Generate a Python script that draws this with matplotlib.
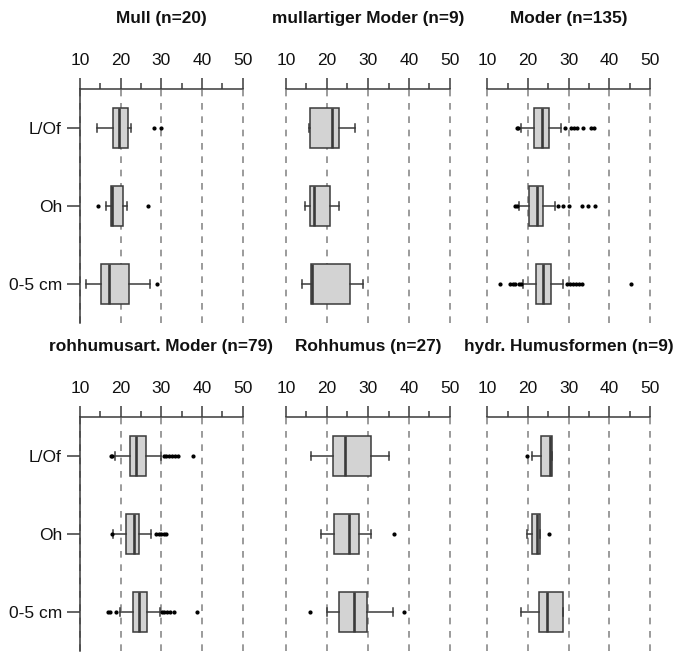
import matplotlib
matplotlib.use("Agg")
import matplotlib.pyplot as plt

plt.rcParams['font.family'] = ['Liberation Sans', 'DejaVu Sans']

titles = ["Mull (n=20)", "mullartiger Moder (n=9)", "Moder (n=135)",
          "rohhumusart. Moder (n=79)", "Rohhumus (n=27)", "hydr. Humusformen (n=9)"]
layers = ["L/Of", "Oh", "0-5 cm"]
x_ticks = [10, 20, 30, 40, 50]
x_minor = [15, 25, 35, 45]

# per panel: values for [L/Of, Oh, 0-5 cm]
whislo = [[14.3, 16.3, 11.4], [15.6, 14.6, 14.0], [18.2, 17.8, 18.7],
          [18.6, 18.2, 19.9], [16.0, 18.5, 20.1], [21.0, 19.8, 18.4]]
q1 = [[18.0, 17.6, 15.2], [15.9, 15.9, 16.1], [21.6, 20.2, 22.0],
      [22.3, 21.4, 23.0], [21.4, 21.8, 23.0], [23.2, 21.1, 22.8]]
med = [[19.7, 17.9, 17.2], [21.3, 16.9, 16.4], [23.4, 22.2, 23.8],
       [23.7, 23.2, 24.6], [24.5, 25.3, 26.7], [25.4, 22.2, 24.7]]
q3 = [[21.9, 20.5, 22.1], [23.0, 20.7, 25.6], [25.1, 23.6, 25.6],
      [26.3, 24.5, 26.5], [30.7, 27.9, 29.8], [25.8, 23.0, 28.6]]
whishi = [[22.5, 21.6, 27.2], [26.8, 23.0, 28.8], [28.0, 26.6, 28.5],
          [29.8, 27.4, 29.6], [35.2, 30.7, 36.2], [25.9, 23.0, 28.6]]
fliers = [
    [[28.2, 29.8], [14.4, 26.8], [28.9]],
    [[], [], []],
    [[17.3, 17.6, 29.1, 30.5, 31.3, 32.0, 33.6, 35.4, 36.2],
     [16.8, 17.2, 27.3, 28.7, 30.0, 33.4, 34.8, 36.6],
     [13.0, 15.7, 16.2, 16.7, 17.9, 18.4, 29.5, 30.3, 31.1, 31.8, 32.6, 33.3, 45.3]],
    [[17.5, 17.9, 30.7, 31.2, 31.9, 32.6, 33.3, 34.2, 37.7],
     [17.9, 28.6, 29.3, 29.9, 30.6, 31.1],
     [16.8, 17.4, 18.9, 30.1, 30.7, 31.4, 32.2, 33.2, 38.8]],
    [[], [36.3], [15.9, 38.8]],
    [[19.8], [25.2], []],
]

W, H = 679, 652
fig = plt.figure(figsize=(W / 100, H / 100), dpi=100)

p10 = [80.0, 286.0, 487.3]
p50 = [242.7, 450.0, 650.0]
row_top = [89.0, 417.0]
row_h = 234.0

dark = '#3a3a3a'
for i in range(6):
    r, c = divmod(i, 3)
    ppu = (p50[c] - p10[c]) / 40.0
    left = p10[c] - ppu
    width = ppu * 42
    ax = fig.add_axes([left / W, 1 - (row_top[r] + row_h) / H, width / W, row_h / H])
    stats = []
    for j in range(3):
        stats.append(dict(whislo=whislo[i][j], q1=q1[i][j], med=med[i][j],
                          q3=q3[i][j], whishi=whishi[i][j], fliers=fliers[i][j]))
    ax.bxp(stats, positions=[1, 2, 3], widths=0.52, orientation='horizontal',
           patch_artist=True, capwidths=0.1,
           boxprops=dict(facecolor='#d3d3d3', edgecolor=dark, linewidth=1.1),
           medianprops=dict(color=dark, linewidth=1.9),
           whiskerprops=dict(color=dark, linewidth=1.1),
           capprops=dict(color=dark, linewidth=1.1),
           flierprops=dict(marker='o', markerfacecolor='black', markeredgecolor='black',
                           markersize=2.0, linestyle='none'),
           zorder=3)
    ax.set_xlim(9, 51)
    ax.set_ylim(3.5, 0.5)
    ax.set_xticks(x_ticks)
    ax.set_xticks(x_minor, minor=True)
    ax.xaxis.tick_top()
    ax.tick_params(axis='x', which='major', direction='out', length=8, width=1.1,
                   pad=7, labelsize=12.5, color=dark, labelcolor='#111111')
    ax.tick_params(axis='x', which='minor', direction='out', length=4.3, width=1.1,
                   color=dark)
    ax.grid(axis='x', which='major', linestyle=(0, (4, 4)), color='#8a8a8a',
            linewidth=1.2, zorder=0)
    ax.set_axisbelow(True)
    for s in ['right', 'bottom']:
        ax.spines[s].set_visible(False)
    ax.spines['top'].set_bounds(10, 50)
    ax.spines['top'].set_color(dark)
    ax.spines['top'].set_linewidth(1.1)
    if c == 0:
        ax.spines['left'].set_position(('data', 10))
        ax.spines['left'].set_color(dark)
        ax.spines['left'].set_linewidth(1.1)
        ax.set_yticks([1, 2, 3])
        ax.set_yticklabels(layers)
        ax.tick_params(axis='y', direction='out', length=9.4, width=1.1, pad=3.6,
                       labelsize=12.5, color=dark, labelcolor='#111111')
    else:
        ax.spines['left'].set_visible(False)
        ax.set_yticks([])
    ax.set_facecolor('none')
    fig.text((p10[c] + p50[c]) / 2 / W, 1 - (19 + (row_top[r] - 89)) / H, titles[i],
             ha='center', va='center', fontsize=12.4, fontweight='bold', color='#111111')

fig.savefig('out.png', dpi=100)
